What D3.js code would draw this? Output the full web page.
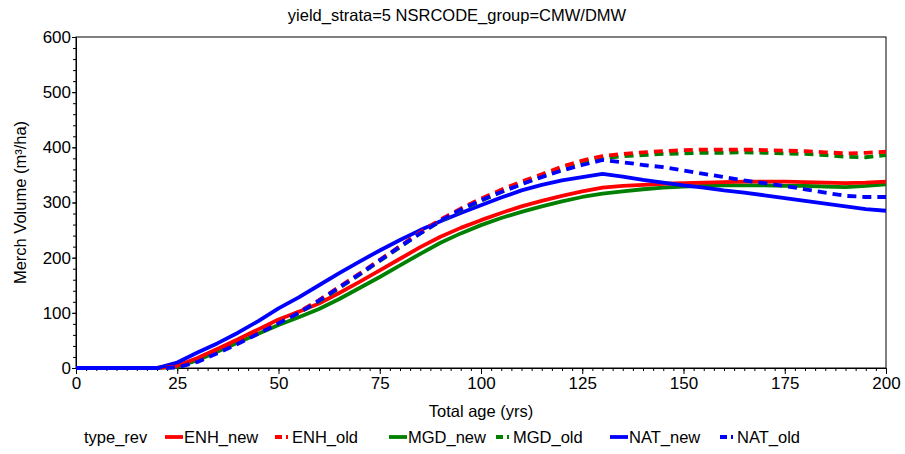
<!DOCTYPE html>
<html>
<head>
<meta charset="utf-8">
<script src="https://cdn.jsdelivr.net/npm/d3@7/dist/d3.min.js"></script>
<style>
  body { margin: 0; background: #fff; }
  svg { font-family: "Liberation Sans", Arial, sans-serif; }
</style>
</head>
<body>
<svg id="chart" width="905" height="454"></svg>
<script>
// ages in years, every 5 from 0 to 200
const ages = d3.range(0, 201, 5);

const ENH_new = [0, 0, 0, 0, 0, 4, 18, 35, 52, 70, 88, 102, 117, 136, 156, 177, 198, 219, 238, 254, 268,
  281, 293, 303, 312, 320, 327, 330, 332, 334, 335, 336, 337, 338, 338, 338, 337, 336, 335, 336, 338];
const ENH_old = [0, 0, 0, 0, 0, 3, 15, 31, 48, 66, 85, 102, 123, 147, 171, 196, 221, 246, 269, 289, 307,
  323, 338, 351, 365, 376, 384, 388, 391, 393, 395, 396, 396, 396, 395, 394, 393, 391, 389, 390, 392];
const MGD_new = [0, 0, 0, 0, 0, 2, 14, 30, 46, 62, 78, 92, 107, 125, 145, 165, 186, 207, 227, 244, 259,
  272, 283, 293, 302, 310, 316, 320, 324, 327, 329, 330, 331, 331, 331, 330, 330, 329, 328, 330, 333];
const MGD_old = [0, 0, 0, 0, 0, 2, 13, 29, 46, 64, 82, 100, 121, 145, 169, 194, 219, 244, 266, 286, 303,
  319, 334, 347, 361, 374, 380, 384, 386, 388, 389, 390, 390, 391, 390, 389, 388, 386, 383, 382, 386];
const NAT_new = [0, 0, 0, 0, 0, 10, 28, 45, 64, 85, 108, 128, 150, 172, 193, 213, 232, 250, 266, 281, 295,
  309, 322, 332, 340, 346, 352, 347, 341, 336, 331, 327, 322, 318, 313, 308, 303, 298, 293, 288, 285];
const NAT_old = [0, 0, 0, 0, 0, 1, 11, 27, 44, 62, 81, 100, 122, 146, 170, 195, 220, 244, 267, 287, 304,
  319, 333, 346, 358, 368, 377, 373, 368, 364, 358, 352, 346, 340, 335, 330, 324, 318, 312, 310, 310];

const seriesNames = ["ENH_new", "ENH_old", "MGD_new", "MGD_old", "NAT_new", "NAT_old"];
const seriesValues = [ENH_new, ENH_old, MGD_new, MGD_old, NAT_new, NAT_old];
const seriesColors = ["#ff0000", "#ff0000", "#008000", "#008000", "#0000ff", "#0000ff"];
const seriesDashed = [false, true, false, true, false, true];

const xTicks = [0, 25, 50, 75, 100, 125, 150, 175, 200];
const yTicks = [0, 100, 200, 300, 400, 500, 600];

const svg = d3.select("#chart");
const margin = { left: 76, right: 19, top: 37, bottom: 86 };
const width = +svg.attr("width");
const height = +svg.attr("height");
const fontFam = "Liberation Sans, Arial, sans-serif";

const x = d3.scaleLinear().domain([0, 200]).range([margin.left, width - margin.right]);
const y = d3.scaleLinear().domain([0, 600]).range([height - margin.bottom, margin.top]);

svg.append("text")
  .attr("x", 457).attr("y", 21)
  .attr("text-anchor", "middle")
  .attr("font-size", 16.5)
  .text("yield_strata=5 NSRCODE_group=CMW/DMW");

// frame
svg.append("rect")
  .attr("x", x(0)).attr("y", y(600))
  .attr("width", x(200) - x(0)).attr("height", y(0) - y(600))
  .attr("fill", "none").attr("stroke", "#000").attr("stroke-width", 1);

// minor ticks
svg.append("g")
  .attr("transform", `translate(0,${y(0)})`)
  .call(d3.axisBottom(x).tickValues(d3.range(0, 200.1, 2.5)).tickSize(3).tickFormat(""))
  .call(g => g.select(".domain").remove());
svg.append("g")
  .attr("transform", `translate(${x(0)},0)`)
  .call(d3.axisLeft(y).tickValues(d3.range(0, 600.1, 20)).tickSize(3).tickFormat(""))
  .call(g => g.select(".domain").remove());

const xAxis = svg.append("g")
  .attr("transform", `translate(0,${y(0)})`)
  .call(d3.axisBottom(x).tickValues(xTicks).tickSize(6).tickSizeOuter(0).tickPadding(3));
xAxis.selectAll("text").attr("font-size", 17).attr("fill", "#000").attr("font-family", fontFam);

const yAxis = svg.append("g")
  .attr("transform", `translate(${x(0)},0)`)
  .call(d3.axisLeft(y).tickValues(yTicks).tickSize(4).tickSizeOuter(0).tickPadding(1));
yAxis.selectAll("text").attr("font-size", 17).attr("fill", "#000").attr("font-family", fontFam);

svg.append("text")
  .attr("x", (x(0) + x(200)) / 2).attr("y", 417)
  .attr("text-anchor", "middle").attr("font-size", 16.5)
  .text("Total age (yrs)");

svg.append("text")
  .attr("transform", `translate(26,${(y(0) + y(600)) / 2}) rotate(-90)`)
  .attr("text-anchor", "middle").attr("font-size", 16.5)
  .text("Merch Volume (m³/ha)");

svg.append("clipPath").attr("id", "plotClip")
  .append("rect")
  .attr("x", x(0)).attr("y", y(600) - 2)
  .attr("width", x(200) - x(0)).attr("height", y(0) - y(600) + 4);

const line = d3.line()
  .x((d, i) => x(ages[i]))
  .y(d => y(d));

const lines = svg.append("g").attr("clip-path", "url(#plotClip)");
// solid lines first, dashed on top
const order = [2, 0, 4, 3, 1, 5];
order.forEach(i => {
  lines.append("path")
    .datum(seriesValues[i])
    .attr("d", line)
    .attr("fill", "none")
    .attr("stroke", seriesColors[i])
    .attr("stroke-width", 3.8)
    .attr("stroke-linejoin", "round")
    .attr("stroke-dasharray", seriesDashed[i] ? "9,6" : null);
});

// legend
const legend = svg.append("g").attr("font-size", 16.5);
legend.append("text").attr("x", 84).attr("y", 443).text("type_rev");
const legendX = [165, 275, 389, 496, 610, 720];
seriesNames.forEach((name, i) => {
  const lx = legendX[i];
  legend.append("line")
    .attr("x1", lx).attr("x2", seriesDashed[i] ? lx + 13 : lx + 18)
    .attr("y1", 437).attr("y2", 437)
    .attr("stroke", seriesColors[i]).attr("stroke-width", 3.8)
    .attr("stroke-dasharray", seriesDashed[i] ? "7,4,2" : null);
  legend.append("text")
    .attr("x", seriesDashed[i] ? lx + 17 : lx + 19).attr("y", 443)
    .text(name);
});
</script>
</body>
</html>
